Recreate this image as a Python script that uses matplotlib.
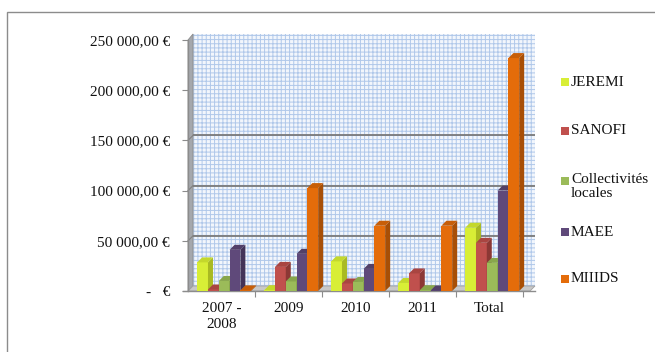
import matplotlib
matplotlib.use('Agg')
import matplotlib.pyplot as plt
from matplotlib.patches import Rectangle, Polygon

# ---------------- data ----------------
categories = ['2007 -\n2008', '2009', '2010', '2011', 'Total']
series_names = ['JEREMI', 'SANOFI', 'Collectivités\nlocales', 'MAEE', 'MIIIDS']
jeremi = [28500, 800, 29500, 8000, 63000]
sanofi = [1500, 24000, 7500, 17500, 48000]
collectivites = [10000, 9500, 9000, 800, 28000]
maee = [41000, 37000, 22000, 500, 100000]
miiids = [600, 102500, 65000, 65000, 232000]
yticks = [0, 50000, 100000, 150000, 200000, 250000]
ytick_labels = ['-   €', '50 000,00 €', '100 000,00 €', '150 000,00 €',
                '200 000,00 €', '250 000,00 €']

series = [jeremi, sanofi, collectivites, maee, miiids]
front_colors = ['#d8ee36', '#c0504d', '#9bbb59', '#5f497a', '#e46c0a']
side_colors = ['#a9ba22', '#8c3835', '#748f3e', '#433357', '#a84f06']
top_colors = ['#c4d82c', '#a94541', '#88a64c', '#524068', '#c75e08']

plt.rcParams['font.family'] = ['Liberation Serif', 'DejaVu Serif']
plt.rcParams['hatch.linewidth'] = 0.7

W, H = 655, 352
fig = plt.figure(figsize=(W / 100, H / 100), dpi=100)
fig.patch.set_facecolor('white')

# outer frame (only left/top visible)
fig.add_artist(Rectangle((7 / W, -0.2), 1.2, 1.2 - 12 / H,
                         transform=fig.transFigure, fill=False,
                         edgecolor='#8c8c8c', lw=1.0, clip_on=False))

axL, axR, axT, axB = 188, 535, 40, 291
ax = fig.add_axes([axL / W, 1 - axB / H, (axR - axL) / W, (axB - axT) / H])
gw = 67.0
xmin = -0.5
xmax = xmin + (axR - axL) / gw
ymax = 250000
ax.set_xlim(xmin, xmax)
ax.set_ylim(0, ymax)
ax.patch.set_alpha(0)
for s in ax.spines.values():
    s.set_visible(False)

dx = 5 / gw
dy = 5 / (axB - axT) * ymax

# back wall with dotted pattern
ax.add_patch(Rectangle((xmin + dx, dy), xmax - xmin - dx, ymax + 1000,
                       facecolor='#f2f6fc', edgecolor='#b0c8ea', hatch='++++',
                       lw=0, clip_on=False, zorder=0))
# left wall
ax.add_patch(Polygon([(xmin, 0), (xmin + dx, dy), (xmin + dx, ymax + dy + 1000), (xmin, ymax)],
                     closed=True, facecolor='#a5a8ad', edgecolor='#8c8c8c', lw=0.6,
                     clip_on=False, zorder=1))
# floor
ax.add_patch(Polygon([(xmin, 0), (xmax - dx, 0), (xmax, dy), (xmin + dx, dy)],
                     closed=True, facecolor='#c8c8c8', edgecolor='#a0a0a0', lw=0.6,
                     clip_on=False, zorder=1))
# gridlines on back wall
for v in [50000, 100000, 150000]:
    ax.plot([xmin + dx, xmax], [v + dy, v + dy], color='#7a7a7a', lw=1.3,
            zorder=1.5, clip_on=False, solid_capstyle='butt')
    ax.plot([xmin, xmin + dx], [v, v + dy], color='#808080', lw=0.8,
            zorder=1.5, clip_on=False)

# axes lines
ax.plot([xmin, xmin], [0, ymax], color='#8c8c8c', lw=1.0, clip_on=False, zorder=2)
ax.plot([xmin - 0.07, xmax], [0, 0], color='#8c8c8c', lw=1.0, clip_on=False, zorder=2)

# 3D bars
nser = len(series)
bw = 10.8 / gw
offset = 0.04
for i, vals in enumerate(series):
    xs = [k + offset + (i - (nser - 1) / 2) * bw for k in range(len(categories))]
    ax.bar(xs, vals, width=bw, color=front_colors[i], edgecolor='none',
           zorder=3 + i * 0.01, clip_on=False)
    for x, h in zip(xs, vals):
        x0 = x - bw / 2
        x1 = x + bw / 2
        ax.add_patch(Polygon([(x1, 0), (x1 + dx, dy), (x1 + dx, h + dy), (x1, h)],
                             closed=True, facecolor=side_colors[i], edgecolor='none',
                             zorder=3 + i * 0.01, clip_on=False))
        ax.add_patch(Polygon([(x0, h), (x0 + dx, h + dy), (x1 + dx, h + dy), (x1, h)],
                             closed=True, facecolor=top_colors[i], edgecolor='none',
                             zorder=3 + i * 0.01, clip_on=False))

FS = 11
# y ticks
ax.set_yticks(yticks)
ax.set_yticklabels(ytick_labels, fontsize=FS, color='#111111')
ax.tick_params(axis='y', length=4, width=0.8, color='#8c8c8c', pad=9)

# x ticks
ax.set_xticks(range(len(categories)))
ax.set_xticklabels(categories, fontsize=FS, color='#111111', linespacing=1.25)
ax.tick_params(axis='x', length=0, pad=8)
ax.set_xticks([xmin + k for k in range(1, len(categories) + 1)], minor=True)
ax.tick_params(axis='x', which='minor', length=4, width=0.8, color='#8c8c8c')

# legend (manual, to match spacing)
leg_y = [82, 131, 181, 232, 279]
for name, col, yy in zip(series_names, front_colors, leg_y):
    fig.add_artist(Rectangle((561 / W, 1 - (yy + 4) / H), 8 / W, 8 / H,
                             transform=fig.transFigure, facecolor=col,
                             edgecolor='none'))
    if '\n' in name:
        fig.text(571 / W, 1 - (yy - 8) / H, name, fontsize=FS, va='top',
                 ha='left', color='#111111', linespacing=1.1)
    else:
        fig.text(571 / W, 1 - yy / H, name, fontsize=FS, va='center',
                 ha='left', color='#111111')

fig.savefig('out.png', dpi=100, facecolor='white')
